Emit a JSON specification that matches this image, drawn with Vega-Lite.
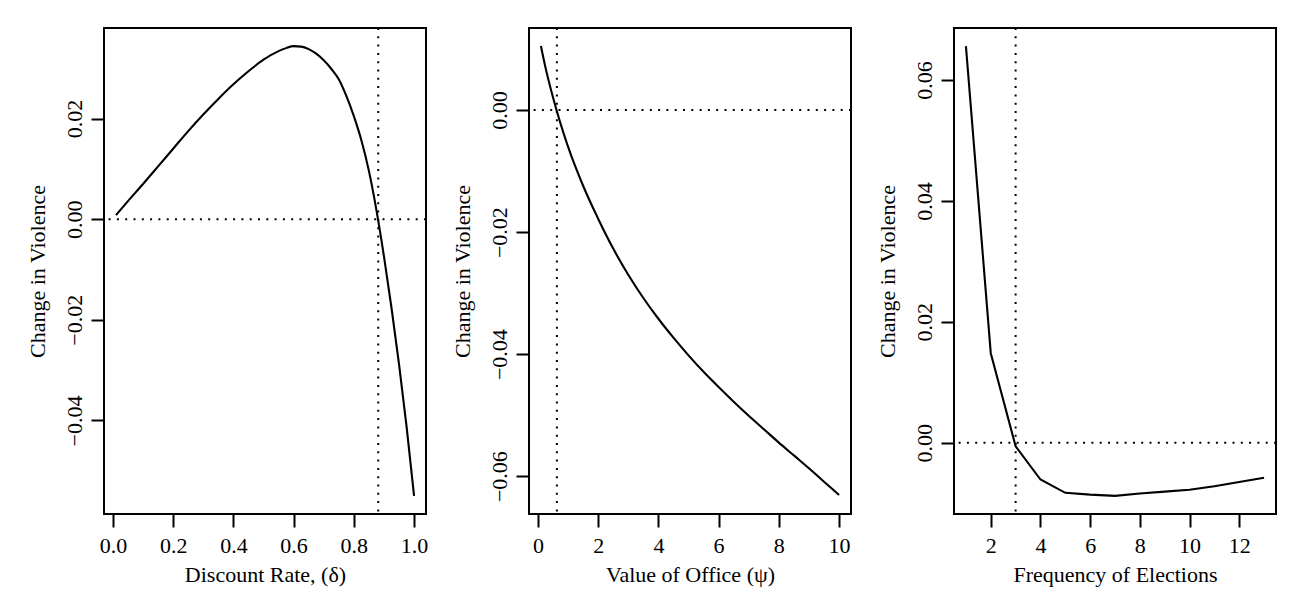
{
  "$schema": "https://vega.github.io/schema/vega-lite/v6.json",
  "autosize": {"type": "none"},
  "padding": {"left": 104, "top": 28, "right": 1194, "bottom": 566},
  "background": "white",
  "bounds": "flush",
  "spacing": 103,
  "datasets": {
    "d1": [
      {"x": 0.01, "y": 0.0008}, {"x": 0.05, "y": 0.0036}, {"x": 0.1, "y": 0.0070}, {"x": 0.15, "y": 0.0105},
      {"x": 0.2, "y": 0.0140}, {"x": 0.25, "y": 0.0175}, {"x": 0.3, "y": 0.0208}, {"x": 0.35, "y": 0.0239},
      {"x": 0.4, "y": 0.0268}, {"x": 0.45, "y": 0.0294}, {"x": 0.5, "y": 0.0317}, {"x": 0.55, "y": 0.0334},
      {"x": 0.575, "y": 0.0340}, {"x": 0.6, "y": 0.0344}, {"x": 0.625, "y": 0.0343}, {"x": 0.65, "y": 0.0338},
      {"x": 0.675, "y": 0.0329}, {"x": 0.7, "y": 0.0316}, {"x": 0.725, "y": 0.0299}, {"x": 0.75, "y": 0.0278},
      {"x": 0.775, "y": 0.0245}, {"x": 0.8, "y": 0.0205}, {"x": 0.825, "y": 0.0157}, {"x": 0.85, "y": 0.0096},
      {"x": 0.875, "y": 0.0018}, {"x": 0.9, "y": -0.0074}, {"x": 0.925, "y": -0.0176}, {"x": 0.95, "y": -0.0288},
      {"x": 0.975, "y": -0.0412}, {"x": 1.0, "y": -0.0550}
    ],
    "d2": [
      {"x": 0.1, "y": 0.0105}, {"x": 0.25, "y": 0.0070}, {"x": 0.5, "y": 0.0021}, {"x": 0.75, "y": -0.0022},
      {"x": 1.0, "y": -0.0060}, {"x": 1.5, "y": -0.0124}, {"x": 2.0, "y": -0.0178}, {"x": 2.5, "y": -0.0227},
      {"x": 3.0, "y": -0.0270}, {"x": 3.5, "y": -0.0308}, {"x": 4.0, "y": -0.0342}, {"x": 4.5, "y": -0.0373},
      {"x": 5.0, "y": -0.0402}, {"x": 5.5, "y": -0.0429}, {"x": 6.0, "y": -0.0454}, {"x": 6.5, "y": -0.0478},
      {"x": 7.0, "y": -0.0501}, {"x": 7.5, "y": -0.0523}, {"x": 8.0, "y": -0.0545}, {"x": 8.5, "y": -0.0566},
      {"x": 9.0, "y": -0.0587}, {"x": 9.5, "y": -0.0609}, {"x": 10.0, "y": -0.0631}
    ],
    "d3": [
      {"x": 1, "y": 0.0656}, {"x": 2, "y": 0.0148}, {"x": 3, "y": -0.0006}, {"x": 4, "y": -0.0061},
      {"x": 5, "y": -0.0083}, {"x": 6, "y": -0.0086}, {"x": 7, "y": -0.0088}, {"x": 8, "y": -0.0084},
      {"x": 9, "y": -0.0081}, {"x": 10, "y": -0.0078}, {"x": 11, "y": -0.0072}, {"x": 12, "y": -0.0065},
      {"x": 13, "y": -0.0058}
    ],
    "r1": [{"vx": 0.881, "hy": 0}],
    "r2": [{"vx": 0.63, "hy": 0}],
    "r3": [{"vx": 3, "hy": 0}]
  },
  "hconcat": [
    {
      "width": 322, "height": 486,
      "layer": [
        {
          "data": {"name": "d1"},
          "mark": {"type": "line", "color": "#000", "strokeWidth": 2.1, "interpolate": "monotone"},
          "encoding": {
            "x": {"field": "x", "type": "quantitative", "title": "Discount Rate, (δ)",
                  "scale": {"domain": [-0.0296, 1.0396], "nice": false, "zero": false},
                  "axis": {"values": [0, 0.2, 0.4, 0.6, 0.8, 1.0], "format": ".1f"}},
            "y": {"field": "y", "type": "quantitative", "title": "Change in Violence",
                  "scale": {"domain": [-0.0586, 0.0380], "nice": false, "zero": false},
                  "axis": {"values": [-0.04, -0.02, 0, 0.02], "format": ".2f"}}
          }
        },
        {
          "data": {"name": "r1"},
          "mark": {"type": "rule", "color": "#000", "strokeWidth": 2, "strokeDash": [2, 6.3]},
          "encoding": {"x": {"field": "vx", "type": "quantitative", "title": "Discount Rate, (δ)"}}
        },
        {
          "data": {"name": "r1"},
          "mark": {"type": "rule", "color": "#000", "strokeWidth": 2, "strokeDash": [2, 6.3]},
          "encoding": {"y": {"field": "hy", "type": "quantitative", "title": "Change in Violence"}}
        }
      ]
    },
    {
      "width": 322, "height": 486,
      "layer": [
        {
          "data": {"name": "d2"},
          "mark": {"type": "line", "color": "#000", "strokeWidth": 2.1, "interpolate": "monotone"},
          "encoding": {
            "x": {"field": "x", "type": "quantitative", "title": "Value of Office (ψ)",
                  "scale": {"domain": [-0.296, 10.396], "nice": false, "zero": false},
                  "axis": {"values": [0, 2, 4, 6, 8, 10], "format": "d"}},
            "y": {"field": "y", "type": "quantitative", "title": "Change in Violence",
                  "scale": {"domain": [-0.0662, 0.01345], "nice": false, "zero": false},
                  "axis": {"values": [-0.06, -0.04, -0.02, 0], "format": ".2f"}}
          }
        },
        {
          "data": {"name": "r2"},
          "mark": {"type": "rule", "color": "#000", "strokeWidth": 2, "strokeDash": [2, 6.3]},
          "encoding": {"x": {"field": "vx", "type": "quantitative", "title": "Value of Office (ψ)"}}
        },
        {
          "data": {"name": "r2"},
          "mark": {"type": "rule", "color": "#000", "strokeWidth": 2, "strokeDash": [2, 6.3]},
          "encoding": {"y": {"field": "hy", "type": "quantitative", "title": "Change in Violence"}}
        }
      ]
    },
    {
      "width": 322, "height": 486,
      "layer": [
        {
          "data": {"name": "d3"},
          "mark": {"type": "line", "color": "#000", "strokeWidth": 2.1},
          "encoding": {
            "x": {"field": "x", "type": "quantitative", "title": "Frequency of Elections",
                  "scale": {"domain": [0.52, 13.48], "nice": false, "zero": false},
                  "axis": {"values": [2, 4, 6, 8, 10, 12], "format": "d"}},
            "y": {"field": "y", "type": "quantitative", "title": "Change in Violence",
                  "scale": {"domain": [-0.0118, 0.0686], "nice": false, "zero": false},
                  "axis": {"values": [0, 0.02, 0.04, 0.06], "format": ".2f"}}
          }
        },
        {
          "data": {"name": "r3"},
          "mark": {"type": "rule", "color": "#000", "strokeWidth": 2, "strokeDash": [2, 6.3]},
          "encoding": {"x": {"field": "vx", "type": "quantitative", "title": "Frequency of Elections"}}
        },
        {
          "data": {"name": "r3"},
          "mark": {"type": "rule", "color": "#000", "strokeWidth": 2, "strokeDash": [2, 6.3]},
          "encoding": {"y": {"field": "hy", "type": "quantitative", "title": "Change in Violence"}}
        }
      ]
    }
  ],
  "config": {
    "view": {"stroke": "#000", "strokeWidth": 2, "fill": "white"},
    "font": "Liberation Serif",
    "axis": {
      "grid": false, "domain": false,
      "ticks": true, "tickColor": "#000", "tickWidth": 2, "tickSize": 13,
      "labelFont": "Liberation Serif", "labelFontSize": 22, "labelColor": "#000",
      "titleFont": "Liberation Serif", "titleFontSize": 22, "titleFontWeight": "normal", "titleColor": "#000",
      "labelOverlap": false, "labelFlush": false
    },
    "axisX": {"labelPadding": 8, "labelBaseline": "top", "titlePadding": 8},
    "axisY": {"labelAngle": -90, "labelAlign": "center", "labelBaseline": "bottom", "labelPadding": 4.5, "titlePadding": 14}
  }
}
